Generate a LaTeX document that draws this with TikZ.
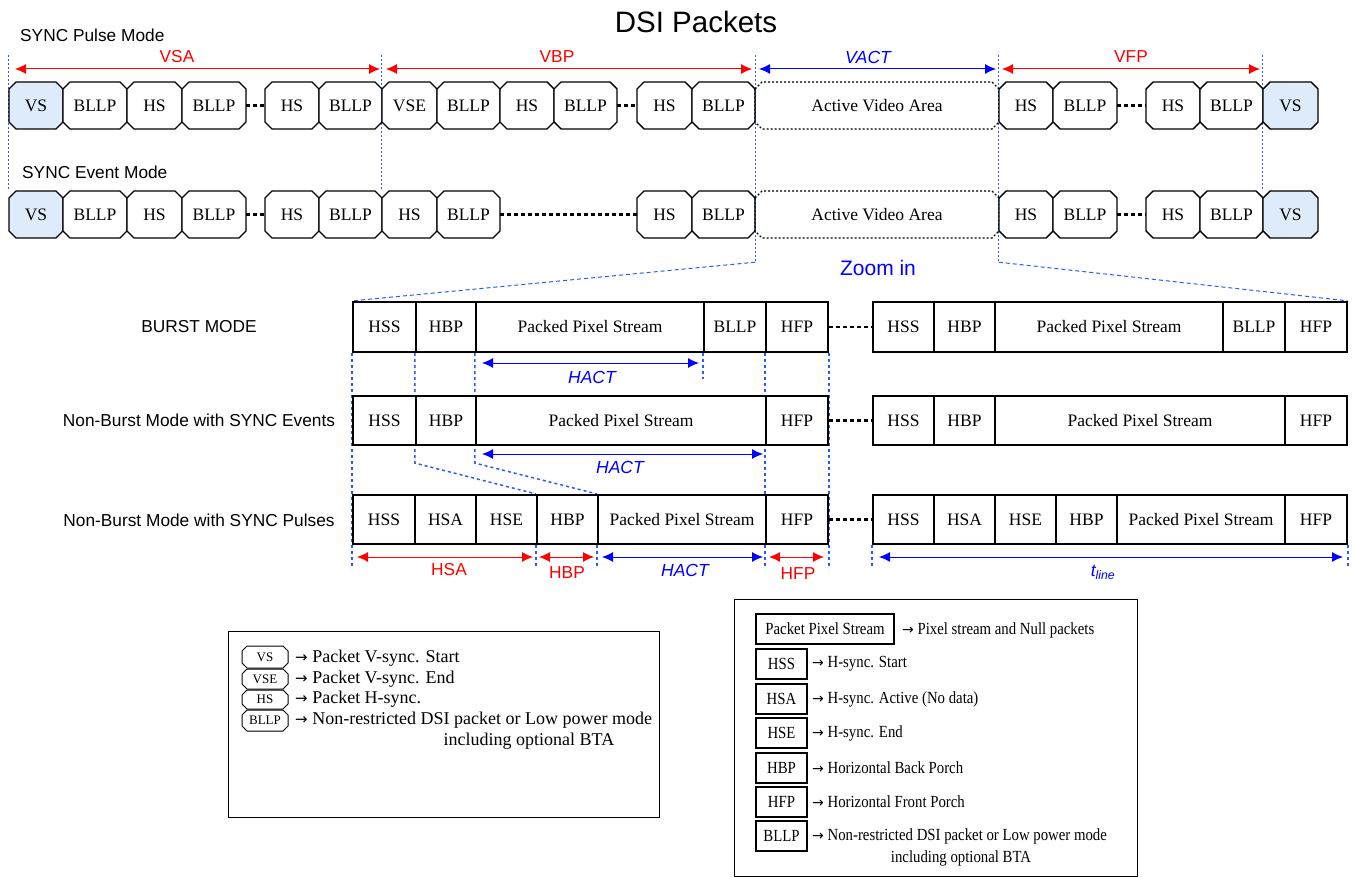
\documentclass[tikz,border=0pt]{standalone}
\usepackage{fontspec}
\setmainfont{Liberation Serif}
\setsansfont{Liberation Sans}
\newfontfamily\condserif{Liberation Serif}[FakeStretch=0.87]
\newfontfamily\arrowfont{DejaVu Sans}
\newcommand\rarr[1]{{\arrowfont\fontsize{#1}{#1}\selectfont →}}
\usetikzlibrary{arrows.meta,calc}
\pgfdeclarelayer{bg}
\pgfsetlayers{bg,main}
\definecolor{vsfill}{RGB}{221,235,250}
\definecolor{gblue}{RGB}{40,90,255}
\definecolor{ablue}{RGB}{0,0,255}
\definecolor{ared}{RGB}{255,0,0}
\newcommand\ch{7}
\newcommand\oc[5][octo]{%
  \path[#1] (#3,\yT+\ch) -- (#3+\ch,\yT) -- (#4-\ch,\yT) -- (#4,\yT+\ch) -- (#4,\yB-\ch) -- (#4-\ch,\yB) -- (#3+\ch,\yB) -- (#3,\yB-\ch) -- cycle;
  \node[txt, minimum width={(#4-#3)*1pt}, minimum height={(\yB-\yT)*1pt}] (#2) at ({(#3+#4)/2},{(\yT+\yB)/2}) {#5};
}
\newcommand\rb[5][rbox]{%
  \node[#1, minimum width={(#4-#3)*1pt}, minimum height={(\yB-\yT)*1pt}] (#2) at ({(#3+#4)/2},{(\yT+\yB)/2}) {#5};
}
\begin{document}
\begin{tikzpicture}[x=1pt,y=-1pt,
  octo/.style={draw, fill=white, line width=1.4pt, line join=miter},
  avs/.style={draw, line width=1.1pt, dash pattern=on 2pt off 2pt},
  txt/.style={inner sep=0pt, font=\fontsize{17.5}{20}\selectfont},
  rbox/.style={draw, line width=2.2pt, inner sep=0pt, fill=white, font=\fontsize{17.5}{20}\selectfont},
  lbox/.style={draw, line width=1.5pt, inner sep=0pt, fill=white, font=\condserif\fontsize{17}{19}\selectfont},
  gap/.style={line width=2.2pt, dash pattern=on 4pt off 3pt},
  vd/.style={gblue, line width=1pt, dash pattern=on 2pt off 2pt},
  vd2/.style={gblue, line width=1.5pt, dash pattern=on 3pt off 3pt},
  zd/.style={gblue, line width=1pt, dash pattern=on 4pt off 3pt},
  tipk/.style={{Latex[length=11pt,width=10pt]}-{Latex[length=11pt,width=10pt]}},
  dimr/.style={ared, line width=1pt, tipk},
  dimb/.style={ablue, line width=1pt, tipk},
  lbl/.style={inner sep=0pt, font=\sffamily\fontsize{17.3}{20}\selectfont},
  ilbl/.style={inner sep=0pt, font=\sffamily\itshape\fontsize{17.5}{20}\selectfont},
  l1txt/.style={inner sep=0pt, anchor=west, font=\fontsize{18}{21}\selectfont},
  l2txt/.style={inner sep=0pt, anchor=west, font=\condserif\fontsize{17}{19}\selectfont},
]
\useasboundingbox (0,0) rectangle (1354,877);

% titles
\node[inner sep=0pt, font=\sffamily\fontsize{29.5}{32}\selectfont] (title) at (696,22) {DSI Packets};
\node[lbl, anchor=west] (pulsemode) at (20,35) {SYNC Pulse Mode};
\node[lbl, anchor=west] (eventmode) at (22,172) {SYNC Event Mode};
\coordinate (top) at (0,55);

% ---------- row 1 : SYNC Pulse Mode
\def\yT{82}\def\yB{129}
\oc[octo, fill=vsfill]{a1}{9}{63}{VS}
\oc{a2}{63}{127}{BLLP}
\oc{a3}{127}{182}{HS}
\oc{a4}{182}{246}{BLLP}
\oc{a5}{265}{319}{HS}
\oc{a6}{319}{382}{BLLP}
\oc{a7}{382}{437}{VSE}
\oc{a8}{437}{500}{BLLP}
\oc{a9}{500}{554}{HS}
\oc{a10}{554}{617}{BLLP}
\oc{a11}{637}{692}{HS}
\oc{a12}{692}{755}{BLLP}
\oc[avs]{a13}{755}{999}{Active Video Area}
\oc{a14}{999}{1053}{HS}
\oc{a15}{1053}{1117}{BLLP}
\oc{a16}{1146}{1200}{HS}
\oc{a17}{1200}{1263}{BLLP}
\oc[octo, fill=vsfill]{a18}{1263}{1318}{VS}
\draw[gap] (a4.east) -- (a5.west);
\draw[gap] (a10.east) -- (a11.west);
\draw[gap] (a15.east) -- (a16.west);

% ---------- row 2 : SYNC Event Mode
\def\yT{191}\def\yB{238}
\oc[octo, fill=vsfill]{b1}{9}{63}{VS}
\oc{b2}{63}{127}{BLLP}
\oc{b3}{127}{182}{HS}
\oc{b4}{182}{246}{BLLP}
\oc{b5}{265}{319}{HS}
\oc{b6}{319}{382}{BLLP}
\oc{b7}{382}{437}{HS}
\oc{b8}{437}{500}{BLLP}
\oc{b9}{637}{692}{HS}
\oc{b10}{692}{755}{BLLP}
\oc[avs]{b11}{755}{999}{Active Video Area}
\oc{b12}{999}{1053}{HS}
\oc{b13}{1053}{1117}{BLLP}
\oc{b14}{1146}{1200}{HS}
\oc{b15}{1200}{1263}{BLLP}
\oc[octo, fill=vsfill]{b16}{1263}{1318}{VS}
\draw[gap] (b4.east) -- (b5.west);
\draw[gap] (b8.east) -- (b9.west);
\draw[gap] (b13.east) -- (b14.west);

% top dimension arrows
\draw[dimr] (15,69) -- (380,69);
\node[lbl, text=ared] (vsa) at (177,57) {VSA};
\draw[dimr] (386,69) -- (752,69);
\node[lbl, text=ared] (vbp) at (557,57) {VBP};
\draw[dimb] (759,69) -- (996,69);
\node[ilbl, text=ablue] (vact) at (868,57) {VACT};
\draw[dimr] (1002,69) -- (1260,69);
\node[lbl, text=ared] (vfp) at (1131,57) {VFP};

\node[inner sep=0pt, font=\sffamily\fontsize{21}{24}\selectfont, text=ablue] (zoom) at (878,268) {Zoom in};

% ---------- BURST MODE
\def\yT{302}\def\yB{352}
\rb{c1}{353}{416}{HSS}
\rb{c2}{416}{476}{HBP}
\rb{c3}{476}{704}{Packed Pixel Stream}
\rb{c4}{704}{766}{BLLP}
\rb{c5}{766}{828}{HFP}
\rb{c6}{873}{934}{HSS}
\rb{c7}{934}{995}{HBP}
\rb{c8}{995}{1223}{Packed Pixel Stream}
\rb{c9}{1223}{1285}{BLLP}
\rb{c10}{1285}{1347}{HFP}
\draw[gap] (c5.east) -- (c6.west);

% ---------- Non-Burst SYNC Events
\def\yT{396}\def\yB{445}
\rb{d1}{353}{416}{HSS}
\rb{d2}{416}{476}{HBP}
\rb{d3}{476}{766}{Packed Pixel Stream}
\rb{d4}{766}{828}{HFP}
\rb{d5}{873}{934}{HSS}
\rb{d6}{934}{995}{HBP}
\rb{d7}{995}{1285}{Packed Pixel Stream}
\rb{d8}{1285}{1347}{HFP}
\draw[gap] (d4.east) -- (d5.west);

% ---------- Non-Burst SYNC Pulses
\def\yT{495}\def\yB{544}
\rb{e1}{353}{415}{HSS}
\rb{e2}{415}{476}{HSA}
\rb{e3}{476}{537}{HSE}
\rb{e4}{537}{598}{HBP}
\rb{e5}{598}{766}{Packed Pixel Stream}
\rb{e6}{766}{828}{HFP}
\rb{e7}{873}{934}{HSS}
\rb{e8}{934}{995}{HSA}
\rb{e9}{995}{1056}{HSE}
\rb{e10}{1056}{1117}{HBP}
\rb{e11}{1117}{1285}{Packed Pixel Stream}
\rb{e12}{1285}{1347}{HFP}
\draw[gap] (e6.east) -- (e7.west);

\node[lbl] (mburst) at (199,327) {BURST MODE};
\node[lbl] (mevents) at (199,420) {Non-Burst Mode with SYNC Events};
\node[lbl] (mpulses) at (199,520) {Non-Burst Mode with SYNC Pulses};

% lower dimension arrows
\draw[dimb] (482,363) -- (699,363);
\node[ilbl, text=ablue] (hact1) at (592,377) {HACT};
\draw[dimb] (482,454) -- (763,454);
\node[ilbl, text=ablue] (hact2) at (620,467) {HACT};
\draw[dimr] (357,557) -- (533,557);
\node[lbl, text=ared] (hsa) at (449,570) {HSA};
\draw[dimr] (539,557) -- (594,557);
\node[lbl, text=ared] (hbp) at (567,573) {HBP};
\draw[dimb] (602,557) -- (763,557);
\node[ilbl, text=ablue] (hact3) at (685,570) {HACT};
\draw[dimr] (769,557) -- (824,557);
\node[lbl, text=ared] (hfp) at (798,574) {HFP};
\draw[dimb] (879,557) -- (1343,557);
\node[ilbl, text=ablue] (tline) at (1103,572) {t\textsubscript{line}};

% guide lines (behind)
\begin{pgfonlayer}{bg}
\draw[vd] (a1.north west |- top) -- (b1.north west);
\draw[vd] (a7.north west |- top) -- (b7.north west);
\draw[vd] (a18.north west |- top) -- (b16.north west);
\draw[vd] (a12.north east |- top) -- (b10.south east) -- ++(0,24) coordinate (z1);
\draw[vd] (a14.north west |- top) -- (b12.south west) -- ++(0,24) coordinate (z2);
\draw[zd] (z1) -- (c1.north west);
\draw[zd] (z2) -- (c10.north east);
\draw[vd2] (c1.south west) -- (e1.south west) -- ++(0,24);
\draw[vd2] (c5.south west) -- (e6.south west) -- ++(0,24);
\draw[vd2] (c5.south east) -- (e6.south east) -- ++(0,24);
\draw[vd2] (c2.south west) -- (d2.south west) -- ++(0,17) -- (e4.north west);
\draw[vd2] (c3.south west) -- (d3.south west) -- ++(0,17) -- (e5.north west);
\draw[vd2] (c4.south west) -- ++(0,26);
\draw[vd2] (e4.south west) -- ++(0,24);
\draw[vd2] (e5.south west) -- ++(0,24);
\draw[vd2] (e7.south west) -- ++(0,24);
\draw[vd2] (e12.south east) -- ++(0,24);
\end{pgfonlayer}

% ---------- legend 1
\node[draw, line width=1pt, minimum width=431pt, minimum height=186pt, inner sep=0pt] (leg1) at (443.5,724) {};
\renewcommand\ch{5}
\tikzset{txt/.style={inner sep=0pt, font=\fontsize{13}{14}\selectfont}, octo/.style={draw, fill=white, line width=1pt}}
\def\yT{646}\def\yB{668}\oc{k1}{242}{288}{VS}
\def\yT{669}\def\yB{689}\oc{k2}{242}{288}{VSE}
\def\yT{690}\def\yB{709}\oc{k3}{242}{288}{HS}
\def\yT{710}\def\yB{731}\oc{k4}{242}{288}{BLLP}
\node[l1txt] (k1t) at (295,658) {\rarr{15} Packet V-sync. Start};
\node[l1txt] (k2t) at (295,679) {\rarr{15} Packet V-sync. End};
\node[l1txt] (k3t) at (295,699) {\rarr{15} Packet H-sync.};
\node[l1txt] (k4t) at (295,720) {\rarr{15} Non-restricted DSI packet or Low power mode};
\node[inner sep=0pt, font=\fontsize{18}{21}\selectfont] (k4u) at (529,741) {including optional BTA};

% ---------- legend 2
\node[draw, line width=1pt, minimum width=403pt, minimum height=277pt, inner sep=0pt] (leg2) at (935.5,737.5) {};
\def\yT{614}\def\yB{644}\rb[lbox]{m1}{756}{894}{Packet Pixel Stream}
\def\yT{649}\def\yB{679}\rb[lbox]{m2}{756}{807}{HSS}
\def\yT{684}\def\yB{714}\rb[lbox]{m3}{756}{807}{HSA}
\def\yT{718}\def\yB{748}\rb[lbox]{m4}{756}{807}{HSE}
\def\yT{753}\def\yB{783}\rb[lbox]{m5}{756}{807}{HBP}
\def\yT{787}\def\yB{817}\rb[lbox]{m6}{756}{807}{HFP}
\def\yT{821}\def\yB{851}\rb[lbox]{m7}{756}{807}{BLLP}
\node[l2txt] (m1t) at (902,630) {\rarr{14} Pixel stream and Null packets};
\node[l2txt] (m2t) at (812,664) {\rarr{14} H-sync. Start};
\node[l2txt] (m3t) at (812,699) {\rarr{14} H-sync. Active (No data)};
\node[l2txt] (m4t) at (812,733) {\rarr{14} H-sync. End};
\node[l2txt] (m5t) at (812,768) {\rarr{14} Horizontal Back Porch};
\node[l2txt] (m6t) at (812,802) {\rarr{14} Horizontal Front Porch};
\node[l2txt] (m7t) at (812,836) {\rarr{14} Non-restricted DSI packet or Low power mode};
\node[inner sep=0pt, font=\condserif\fontsize{17}{19}\selectfont] (m7u) at (961,858) {including optional BTA};
\end{tikzpicture}
\end{document}
